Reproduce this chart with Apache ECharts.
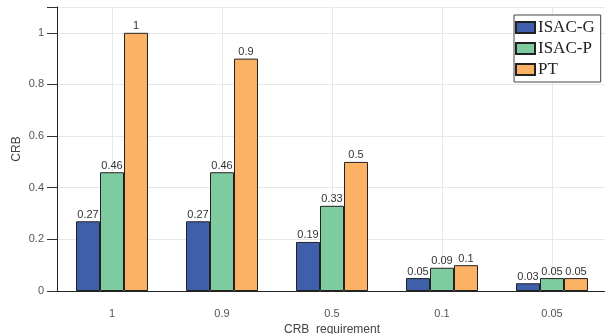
<!DOCTYPE html>
<html>
<head>
<meta charset="utf-8">
<script src="https://cdn.jsdelivr.net/npm/echarts@6/dist/echarts.min.js"></script>
<style>
  html, body { margin: 0; padding: 0; background: #fff; }
  #chart { width: 605px; height: 334px; }
</style>
</head>
<body>
<div id="chart"></div>
<script>
// CRB achieved by each scheme under different CRB requirements
const categories = ['1', '0.9', '0.5', '0.1', '0.05'];
const isacG = [0.27, 0.27, 0.19, 0.05, 0.03];
const isacP = [0.46, 0.46, 0.33, 0.09, 0.05];
const pt = [1, 0.9, 0.5, 0.1, 0.05];
const yTicks = [0, 0.2, 0.4, 0.6, 0.8, 1];

const chart = echarts.init(document.getElementById('chart'), null, { renderer: 'canvas' });

function barSeries(name, data, color) {
  return {
    name: name,
    type: 'bar',
    data: data,
    barWidth: 24,
    barGap: '0%',
    itemStyle: { color: color, borderColor: '#222', borderWidth: 1 },
    label: {
      show: true,
      position: 'top',
      distance: 1,
      fontFamily: 'Liberation Sans, Arial, sans-serif',
      fontSize: 11,
      color: '#333'
    }
  };
}

chart.setOption({
  animation: false,
  grid: { left: 57, right: -2, top: 7, bottom: 43, containLabel: false, outerBoundsMode: 'none' },
  legend: {
    orient: 'vertical',
    left: 514,
    top: 15,
    padding: [4, 6, 4, 1],
    itemWidth: 19,
    itemHeight: 11,
    itemGap: 4,
    backgroundColor: '#fff',
    borderColor: '#444',
    borderWidth: 1,
    borderRadius: 0,
    icon: 'rect',
    textStyle: {
      fontFamily: 'Liberation Serif, Times New Roman, serif',
      fontSize: 17,
      color: '#222',
      padding: [0, 0, 0, -2]
    },
    data: ['ISAC-G', 'ISAC-P', 'PT']
  },
  xAxis: {
    type: 'category',
    data: categories,
    name: 'CRB_requirement',
    nameLocation: 'middle',
    nameGap: 33,
    nameMoveOverlap: false,
    nameTextStyle: { fontFamily: 'Liberation Sans, Arial, sans-serif', fontSize: 12, color: '#444' },
    axisLine: { lineStyle: { color: '#222' } },
    axisTick: { alignWithLabel: true, length: 9, lineStyle: { color: '#333' } },
    axisLabel: { margin: 17, fontFamily: 'Liberation Sans, Arial, sans-serif', fontSize: 11, color: '#555' },
    splitLine: { show: true, alignWithLabel: true, lineStyle: { color: '#e8e8e8' } }
  },
  yAxis: {
    type: 'value',
    min: 0,
    max: 1.1,
    interval: 0.2,
    name: 'CRB',
    nameLocation: 'middle',
    nameGap: 34,
    nameMoveOverlap: false,
    nameTextStyle: { fontFamily: 'Liberation Sans, Arial, sans-serif', fontSize: 12, color: '#444' },
    axisLine: { show: true, lineStyle: { color: '#222' } },
    axisTick: { show: true, length: 10, lineStyle: { color: '#333' } },
    axisLabel: {
      margin: 13,
      fontFamily: 'Liberation Sans, Arial, sans-serif',
      fontSize: 11,
      color: '#555',
      formatter: function (v) {
        return yTicks.some(t => Math.abs(t - v) < 1e-9) ? String(+v.toFixed(1)) : '';
      }
    },
    splitLine: { show: true, lineStyle: { color: '#e8e8e8' } }
  },
  series: [
    barSeries('ISAC-G', isacG, '#3f5fab'),
    barSeries('ISAC-P', isacP, '#7fcba0'),
    barSeries('PT', pt, '#fbb265')
  ]
});
</script>
</body>
</html>
